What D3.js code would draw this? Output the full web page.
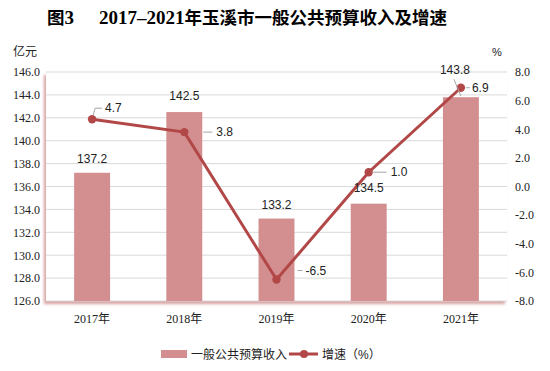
<!DOCTYPE html>
<html>
<head>
<meta charset="utf-8">
<script src="https://cdn.jsdelivr.net/npm/d3@7"></script>
<style>
  body { margin: 0; background: #fff; }
  svg { display: block; }
</style>
</head>
<body>
<div class="chart"></div>
<script>
// data
var years = ["2017年", "2018年", "2019年", "2020年", "2021年"];
var revenue = [137.2, 142.5, 133.2, 134.5, 143.8];
var growth = [4.7, 3.8, -6.5, 1.0, 6.9];
var leftTicks = [126, 128, 130, 132, 134, 136, 138, 140, 142, 144, 146];
var rightTicks = [-8, -6, -4, -2, 0, 2, 4, 6, 8];

var svgWidth = 550;
var svgHeight = 371;

var chartMargin = { top: 72, right: 43, bottom: 70, left: 46 };
var chartWidth = svgWidth - chartMargin.left - chartMargin.right;
var chartHeight = svgHeight - chartMargin.top - chartMargin.bottom;

var barColor = "#d38f8f";
var lineColor = "#b24747";
var serif = "'Liberation Serif', 'Times New Roman', 'Noto Sans CJK SC', serif";
var sans = "'Liberation Sans', Arial, 'Noto Sans CJK SC', sans-serif";

// plain hyphen minus like the original
var fmt = d => d.toFixed(1);

var svg = d3.select(".chart")
  .append("svg")
  .attr("width", svgWidth)
  .attr("height", svgHeight);

var defs = svg.append("defs");
var shadow = defs.append("filter").attr("id", "shadow")
  .attr("x", "-5%").attr("y", "-5%").attr("width", "110%").attr("height", "110%");
shadow.append("feDropShadow")
  .attr("dx", -2).attr("dy", 3).attr("stdDeviation", 1.6)
  .attr("flood-color", "#c98080").attr("flood-opacity", 0.75);

// title: digits in serif, Chinese from the CJK fallback
var title = svg.append("text")
  .attr("y", 24)
  .style("font-family", serif)
  .style("font-weight", "bold");
title.append("tspan").attr("x", 47).style("font-size", "17.5px").text("图");
title.append("tspan").style("font-size", "19px").text("3");
title.append("tspan").attr("x", 99).style("font-size", "19px").text("2017–2021");
title.append("tspan").style("font-size", "17.5px").text("年玉溪市一般公共预算收入及增速");

// unit labels
svg.append("text")
  .attr("x", 13).attr("y", 56)
  .style("font-family", sans).style("font-size", "12px").style("fill", "#222")
  .text("亿元");
svg.append("text")
  .attr("x", 492).attr("y", 56)
  .style("font-family", sans).style("font-size", "11px").style("fill", "#222")
  .text("%");

var chartGroup = svg.append("g")
  .attr("transform", `translate(${chartMargin.left}, ${chartMargin.top})`);

// plot area with shadow
chartGroup.append("rect")
  .attr("x", 0).attr("y", 0)
  .attr("width", chartWidth).attr("height", chartHeight)
  .attr("fill", "#fff")
  .attr("filter", "url(#shadow)");

var xBandScale = d3.scaleBand()
  .domain(years)
  .range([0, chartWidth])
  .paddingInner(0.61)
  .paddingOuter(0.305);

var xPointScale = d3.scaleBand()
  .domain(years)
  .range([0, chartWidth]);

var yLeftScale = d3.scaleLinear()
  .domain([126, 146])
  .range([chartHeight, 0]);

var yRightScale = d3.scaleLinear()
  .domain([-8, 8])
  .range([chartHeight, 0]);

// gridlines
chartGroup.append("g")
  .selectAll("line")
  .data(leftTicks)
  .enter()
  .append("line")
  .attr("x1", 0).attr("x2", chartWidth)
  .attr("y1", d => yLeftScale(d)).attr("y2", d => yLeftScale(d))
  .attr("stroke", "#d9d9d9")
  .attr("stroke-width", 1);

// axes
var leftAxis = d3.axisLeft(yLeftScale)
  .tickValues(leftTicks)
  .tickFormat(fmt)
  .tickSize(0)
  .tickPadding(6);
var rightAxis = d3.axisRight(yRightScale)
  .tickValues(rightTicks)
  .tickFormat(fmt)
  .tickSize(0)
  .tickPadding(8);
var bottomAxis = d3.axisBottom(xPointScale)
  .tickSize(0)
  .tickPadding(13);

var gl = chartGroup.append("g").call(leftAxis);
var gr = chartGroup.append("g")
  .attr("transform", `translate(${chartWidth}, 0)`)
  .call(rightAxis);
var gb = chartGroup.append("g")
  .attr("transform", `translate(0, ${chartHeight})`)
  .call(bottomAxis);

[gl, gr, gb].forEach(function(g) {
  g.select(".domain").remove();
  g.selectAll("text")
    .style("font-family", serif)
    .style("font-size", "12px")
    .style("fill", "#222");
});

// bars
chartGroup.selectAll(".bar")
  .data(revenue)
  .enter()
  .append("rect")
  .attr("class", "bar")
  .attr("x", (d, i) => xBandScale(years[i]))
  .attr("y", d => yLeftScale(d))
  .attr("width", xBandScale.bandwidth())
  .attr("height", d => chartHeight - yLeftScale(d))
  .attr("fill", barColor);

var cx = i => xPointScale(years[i]) + xPointScale.bandwidth() / 2;

// line
var line = d3.line()
  .x((d, i) => cx(i))
  .y(d => yRightScale(d));

chartGroup.append("path")
  .datum(growth)
  .attr("d", line)
  .attr("fill", "none")
  .attr("stroke", lineColor)
  .attr("stroke-width", 3);

chartGroup.selectAll(".dot")
  .data(growth)
  .enter()
  .append("circle")
  .attr("cx", (d, i) => cx(i))
  .attr("cy", d => yRightScale(d))
  .attr("r", 4.2)
  .attr("fill", lineColor);

// bar value labels
var barLabelDx = [0, 0, 0, 0, -6];
var barLabelDy = [-10, -12, -10, -12, -23];
chartGroup.selectAll(".barLabel")
  .data(revenue)
  .enter()
  .append("text")
  .attr("x", (d, i) => cx(i) + barLabelDx[i])
  .attr("y", (d, i) => yLeftScale(d) + barLabelDy[i])
  .attr("text-anchor", "middle")
  .style("font-family", sans)
  .style("font-size", "12px")
  .style("fill", "#222")
  .text(fmt);

// growth labels with leader lines
var growthLabelDx = [13, 32, 29, 22, 11];
var growthLabelDy = [-7, 4, -5, 4, 4];
var leaders = [
  [[1, -4], [3, -11], [10, -11]],
  [[19, 0], [28, 0]],
  [[21, -9], [26, -9]],
  [[3, 0], [18, 0]],
  [[5, 0], [9, 0]]
];
leaders.forEach(function(pts, i) {
  var x0 = cx(i), y0 = yRightScale(growth[i]);
  chartGroup.append("path")
    .attr("d", d3.line()(pts.map(p => [x0 + p[0], y0 + p[1]])))
    .attr("fill", "none")
    .attr("stroke", "#a6a6a6")
    .attr("stroke-width", 1);
});
// leader from 143.8 label down to bar top
chartGroup.append("line")
  .attr("x1", cx(4) - 7).attr("y1", yLeftScale(revenue[4]) - 18)
  .attr("x2", cx(4)).attr("y2", yLeftScale(revenue[4]) - 1)
  .attr("stroke", "#a6a6a6").attr("stroke-width", 1);

chartGroup.selectAll(".growthLabel")
  .data(growth)
  .enter()
  .append("text")
  .attr("x", (d, i) => cx(i) + growthLabelDx[i])
  .attr("y", (d, i) => yRightScale(d) + growthLabelDy[i])
  .style("font-family", sans)
  .style("font-size", "12px")
  .style("fill", "#222")
  .text(fmt);

// legend
var legend = svg.append("g").attr("transform", "translate(0, 354)");
legend.append("rect")
  .attr("x", 161).attr("y", -4)
  .attr("width", 26).attr("height", 8)
  .attr("fill", barColor);
legend.append("text")
  .attr("x", 191).attr("y", 5)
  .style("font-family", sans).style("font-size", "12px").style("fill", "#222")
  .text("一般公共预算收入");
legend.append("line")
  .attr("x1", 289).attr("x2", 318)
  .attr("y1", 0).attr("y2", 0)
  .attr("stroke", lineColor).attr("stroke-width", 3);
legend.append("circle")
  .attr("cx", 304).attr("cy", 0).attr("r", 4)
  .attr("fill", lineColor);
legend.append("text")
  .attr("x", 322).attr("y", 5)
  .style("font-family", sans).style("font-size", "12px").style("fill", "#222")
  .text("增速（%）");
</script>
</body>
</html>
